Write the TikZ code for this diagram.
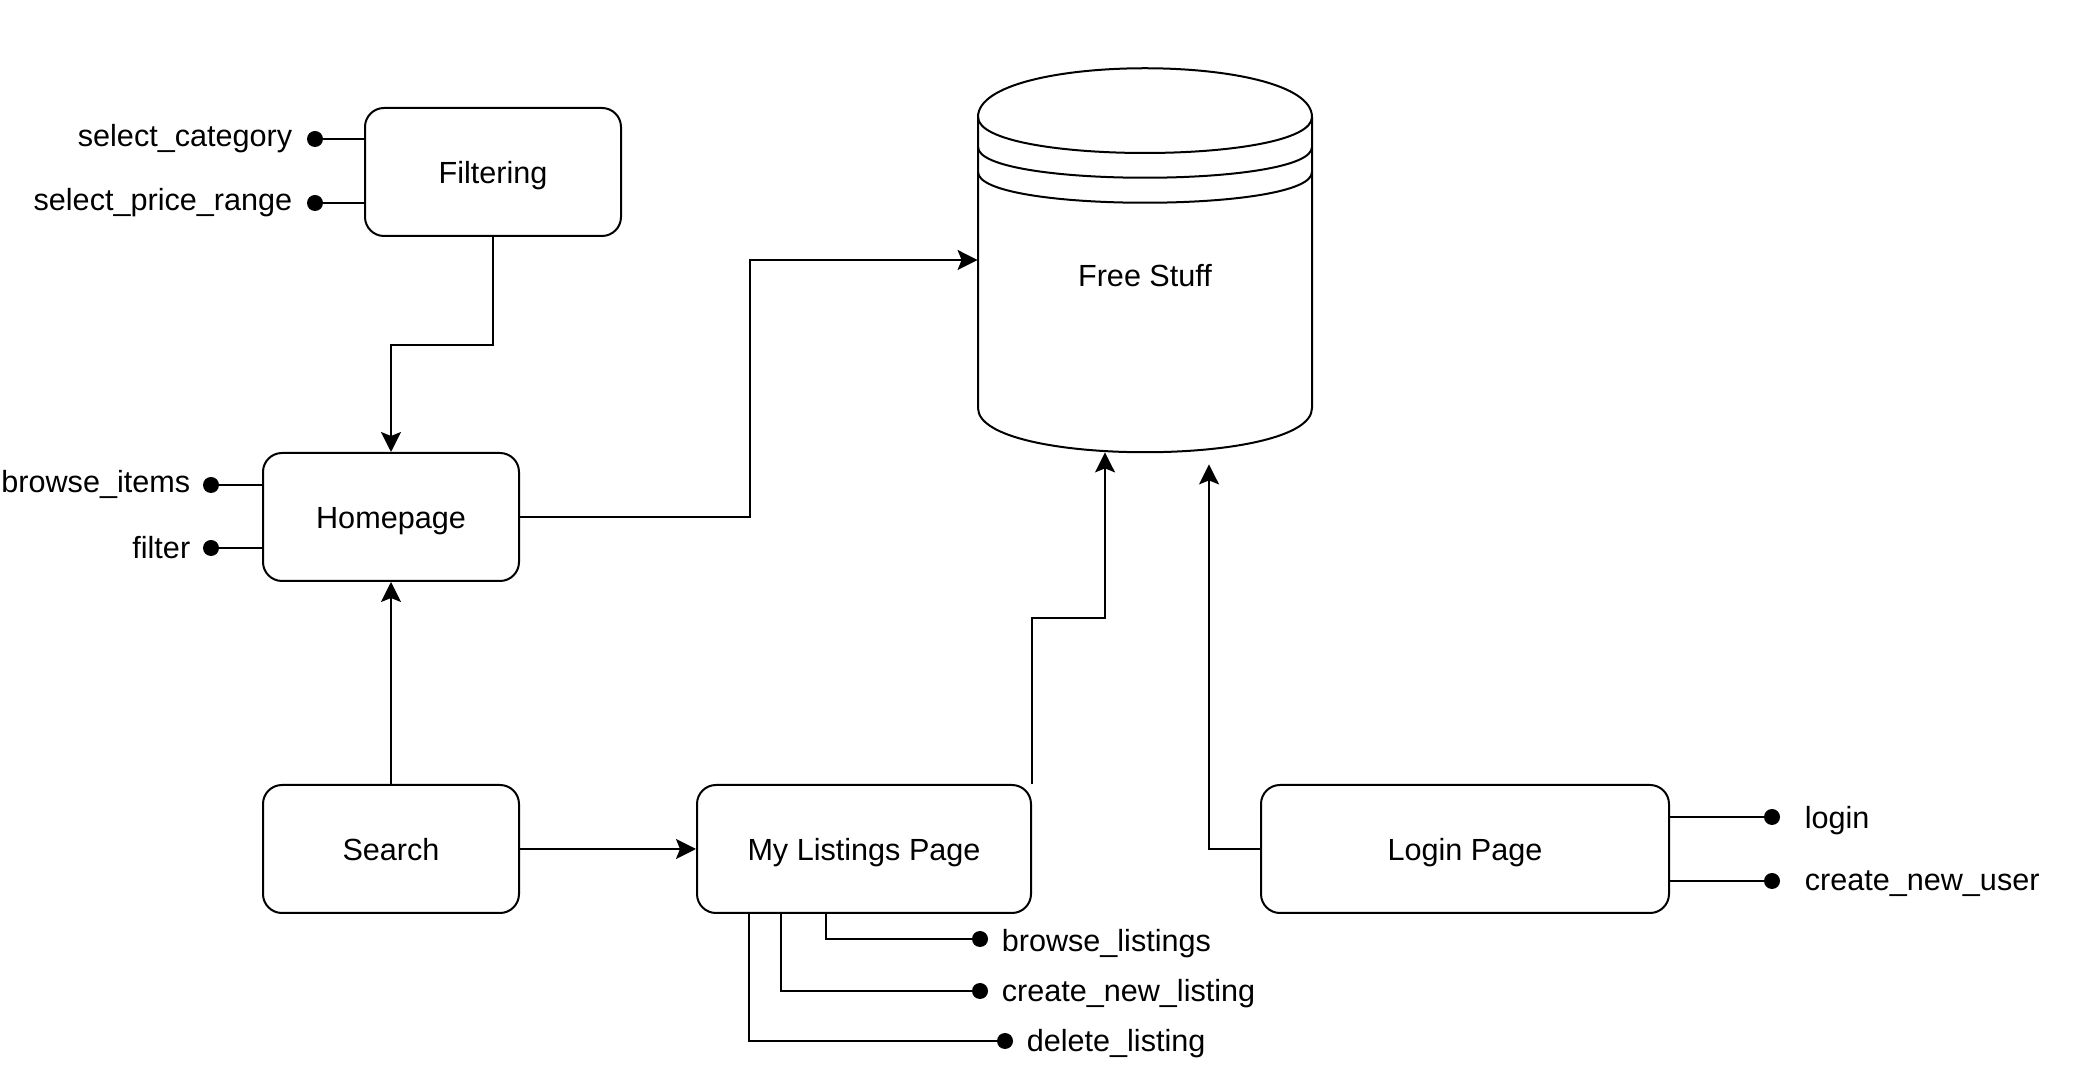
\documentclass[tikz,border=0pt]{standalone}
\usepackage{fontspec}
\setmainfont{Liberation Sans}
\usetikzlibrary{arrows.meta,positioning}
\begin{document}
\begin{tikzpicture}[
  x=0.5pt,y=-0.5pt,
  page/.style={draw,line width=1pt,rounded corners=9.5pt,minimum height=64pt,
    text height=14.5pt,text depth=2.5pt,font=\fontsize{15.3}{18}\selectfont},
  pt/.style={circle,fill,inner sep=0pt,minimum size=8pt},
  attr/.style={inner sep=0pt,font=\fontsize{15.3}{18}\selectfont},
  wire/.style={line width=1pt},
  link/.style={wire,-{Stealth[length=10pt,width=10pt,inset=2pt]}},
]
\useasboundingbox (0,0) rectangle (2090,1068);

\node[page,minimum width=128pt] (flt) at (493,172) {Filtering};
\node[page,minimum width=128pt] (hp) at (391,517) {Homepage};
\node[page,minimum width=128pt] (srch) at (391,849) {Search};
\node[page,minimum width=167pt] (ml) at (864,849) {My Listings Page};
\node[page,minimum width=204pt] (lp) at (1465,849) {Login Page};

% Free Stuff store
\node[minimum width=167pt,minimum height=192pt,inner sep=0pt] (db) at (1145,260) {};
\draw[wire,fill=white] (978,117) .. controls (978,52) and (1312,52) .. (1312,117)
  -- (1312,408) .. controls (1312,467) and (978,467) .. (978,408) -- cycle;
\draw[wire] (978,117) .. controls (978,165) and (1312,165) .. (1312,117);
\draw[wire] (978,147) .. controls (978,188) and (1312,188) .. (1312,147);
\draw[wire] (978,172) .. controls (978,213) and (1312,213) .. (1312,172);
\node[attr] (dbl) at (1145,276) {Free Stuff};

\node[pt] (sc) at (315,139) {};
\node[attr,left=7pt of sc] (scl) {select\_category};
\node[pt] (spr) at (315,203) {};
\node[attr,left=7pt of spr] (sprl) {select\_price\_range};
\draw[wire] (sc) -- (sc -| flt.west);
\draw[wire] (spr) -- (spr -| flt.west);

\node[pt] (bi) at (211,485) {};
\node[attr,left=6pt of bi,yshift=0.5pt] (bil) {browse\_items};
\node[pt] (fi) at (211,548) {};
\node[attr,left=6pt of fi] (fil) {filter};
\draw[wire] (bi) -- (bi -| hp.west);
\draw[wire] (fi) -- (fi -| hp.west);

\node[pt] (lg) at (1772,817) {};
\node[attr,right=12pt of lg,yshift=-2pt] (lgl) {login};
\node[pt] (cu) at (1772,881) {};
\node[attr,right=12pt of cu,yshift=-1.5pt] (cul) {create\_new\_user};
\draw[wire] (lg) -- (lg -| lp.east);
\draw[wire] (cu) -- (cu -| lp.east);

\node[pt] (bl) at (980,939) {};
\node[attr,right=6.5pt of bl,yshift=-2.5pt] (bll) {browse\_listings};
\node[pt] (cl) at (980,991) {};
\node[attr,right=6.5pt of cl,yshift=-1.5pt] (cll) {create\_new\_listing};
\node[pt] (dl) at (1005,1041) {};
\node[attr,right=6.5pt of dl,yshift=-1.5pt] (dll) {delete\_listing};
\draw[wire] (bl) -| ([xshift=-19pt]ml.south);
\draw[wire] (cl) -| ([xshift=-41.5pt]ml.south);
\draw[wire] (dl) -| ([xshift=-57.5pt]ml.south);

\draw[link] (flt.south) -- ++(0,108) -| (hp.north);
\draw[link] (hp.east) -- ++(230,0) |- (db.west);
\draw[link] (srch.north) -- (hp.south);
\draw[link] (srch.east) -- (ml.west);
\draw[link] (ml.north east) -- ++(0,-166) -| ([xshift=-20pt]db.south);
\draw[link] (lp.west) -| ([xshift=32pt,yshift=-6pt]db.south);
\end{tikzpicture}
\end{document}
